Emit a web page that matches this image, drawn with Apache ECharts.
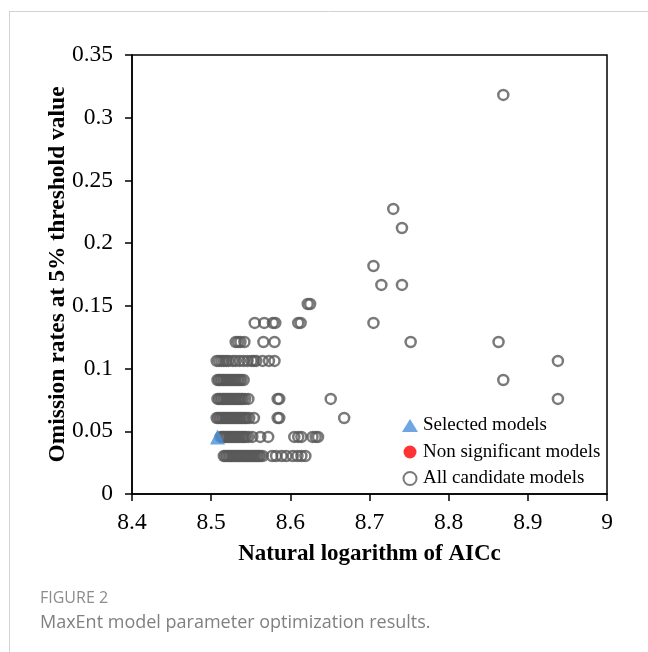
<!DOCTYPE html>
<html><head><meta charset="utf-8">
<script src="https://cdn.jsdelivr.net/npm/echarts/dist/echarts.min.js"></script>
<style>html,body{margin:0;padding:0;background:#fff}#c{width:648px;height:652px}</style>
</head><body><div id="c"></div>
<script>
// Tick labels
const xTickLabels = ['8.4', '8.5', '8.6', '8.7', '8.8', '8.9', '9'];
const yTickLabels = ['0', '0.05', '0.1', '0.15', '0.2', '0.25', '0.3', '0.35'];

// Omission-rate levels (y) and the AICc (ln) values of candidate models at each level (x)
const omissionLevels = [0.0303, 0.0455, 0.0606, 0.0758, 0.0909, 0.1061, 0.1212, 0.1364, 0.1515, 0.1667, 0.1818, 0.2121, 0.2273, 0.3182];
const aicc0303 = [8.516, 8.518, 8.520, 8.522, 8.524, 8.526, 8.528, 8.530, 8.532, 8.534, 8.536, 8.538, 8.540, 8.542, 8.544, 8.546, 8.548, 8.550, 8.552, 8.554, 8.556, 8.558, 8.560, 8.562, 8.565, 8.577, 8.582, 8.589, 8.595, 8.603, 8.609, 8.614, 8.619];
const aicc0455 = [8.512, 8.514, 8.516, 8.518, 8.520, 8.522, 8.524, 8.526, 8.528, 8.530, 8.532, 8.534, 8.536, 8.538, 8.540, 8.542, 8.544, 8.547, 8.552, 8.562, 8.572, 8.605, 8.610, 8.614, 8.628, 8.632, 8.635];
const aicc0606 = [8.507, 8.509, 8.511, 8.513, 8.515, 8.517, 8.519, 8.521, 8.523, 8.525, 8.527, 8.529, 8.531, 8.533, 8.535, 8.537, 8.539, 8.541, 8.543, 8.545, 8.548, 8.554, 8.584, 8.586, 8.668];
const aicc0758 = [8.508, 8.510, 8.512, 8.514, 8.516, 8.518, 8.520, 8.522, 8.524, 8.526, 8.528, 8.530, 8.532, 8.534, 8.536, 8.538, 8.540, 8.543, 8.547, 8.584, 8.586, 8.651, 8.938];
const aicc0909 = [8.508, 8.510, 8.512, 8.514, 8.516, 8.518, 8.520, 8.522, 8.524, 8.526, 8.528, 8.530, 8.532, 8.534, 8.536, 8.538, 8.541, 8.869];
const aicc1061 = [8.507, 8.510, 8.513, 8.516, 8.519, 8.522, 8.527, 8.531, 8.536, 8.541, 8.546, 8.551, 8.554, 8.557, 8.565, 8.573, 8.580, 8.938];
const aicc1212 = [8.531, 8.534, 8.537, 8.542, 8.566, 8.580, 8.752, 8.863];
const aicc1364 = [8.555, 8.567, 8.578, 8.581, 8.610, 8.613, 8.705];
const aicc1515 = [8.622, 8.625];
const aicc1667 = [8.715, 8.741];
const aicc1818 = [8.705];
const aicc2121 = [8.741];
const aicc2273 = [8.730];
const aicc3182 = [8.869];
const aiccByLevel = [aicc0303, aicc0455, aicc0606, aicc0758, aicc0909, aicc1061, aicc1212, aicc1364, aicc1515, aicc1667, aicc1818, aicc2121, aicc2273, aicc3182];

// Selected model
const selectedAICc = [8.508];
const selectedOmission = [0.0455];

// Non significant models (none visible in the plot)
const nonSigAICc = [];
const nonSigOmission = [];

const candidates = [];
omissionLevels.forEach((lvl, i) => aiccByLevel[i].forEach(x => candidates.push([x, lvl])));
const selected = selectedAICc.map((x, i) => [x, selectedOmission[i]]);
const nonSig = nonSigAICc.map((x, i) => [x, nonSigOmission[i]]);

const serif = '"Liberation Serif", "Times New Roman", serif';
const axisLineStyle = { color: '#000', width: 1.5 };

const chart = echarts.init(document.getElementById('c'), null, { renderer: 'canvas' });
chart.setOption({
  animation: false,
  backgroundColor: '#fff',
  grid: { left: 132, top: 55, right: 41, bottom: 158, show: true, borderColor: '#000', borderWidth: 1.5, backgroundColor: 'transparent' },
  xAxis: {
    type: 'value', min: 8.4, max: 9, interval: 0.1,
    axisLine: { show: true, onZero: false, lineStyle: axisLineStyle },
    axisTick: { show: true, inside: false, length: 7, lineStyle: axisLineStyle },
    splitLine: { show: false },
    axisLabel: { fontFamily: serif, fontSize: 23.5, color: '#000', margin: 17,
      formatter: v => xTickLabels[Math.round((v - 8.4) / 0.1)] },
    name: 'Natural logarithm of AICc', nameLocation: 'middle', nameGap: 49,
    nameTextStyle: { fontFamily: serif, fontWeight: 'bold', fontSize: 23, color: '#000' }
  },
  yAxis: {
    type: 'value', min: 0, max: 0.35, interval: 0.05,
    axisLine: { show: true, onZero: false, lineStyle: axisLineStyle },
    axisTick: { show: true, inside: false, length: 7, lineStyle: axisLineStyle },
    splitLine: { show: false },
    axisLabel: { fontFamily: serif, fontSize: 23.5, color: '#000', margin: 19,
      formatter: v => yTickLabels[Math.round(v / 0.05)] },
    name: 'Omission rates at 5% threshold value', nameLocation: 'middle', nameGap: 62, nameMoveOverlap: false,
    nameTextStyle: { fontFamily: serif, fontWeight: 'bold', fontSize: 23.5, color: '#000' }
  },
  legend: {
    data: ['Selected models', 'Non significant models', 'All candidate models'],
    orient: 'vertical', left: 397, top: 411, itemWidth: 16, itemHeight: 13, itemGap: 7.5,
    textStyle: { fontFamily: serif, fontSize: 19, color: '#000', lineHeight: 18 }
  },
  series: [
    { name: 'All candidate models', type: 'scatter', symbol: 'circle', symbolSize: 10, z: 2,
      itemStyle: { color: 'rgba(0,0,0,0)', borderColor: '#595959', borderWidth: 2.5 },
      emphasis: { disabled: true }, data: candidates },
    { name: 'Non significant models', type: 'scatter', symbol: 'circle', symbolSize: 14, z: 3,
      itemStyle: { color: '#ff0000' }, data: nonSig },
    { name: 'Selected models', type: 'scatter', symbol: 'triangle', symbolSize: 15, z: 4,
      itemStyle: { color: '#4a90d9' }, emphasis: { disabled: true }, data: selected }
  ],
  graphic: [
    { type: 'line', silent: true, shape: { x1: 9, y1: 11.5, x2: 648, y2: 11.5 }, style: { stroke: '#d2d2d2', lineWidth: 1 } },
    { type: 'line', silent: true, shape: { x1: 9.5, y1: 11, x2: 9.5, y2: 652 }, style: { stroke: '#d2d2d2', lineWidth: 1 } },
    { type: 'text', left: 40, top: 590, style: { text: 'FIGURE 2', font: '16px "Open Sans", sans-serif', fill: '#8c8c8c' } },
    { type: 'text', left: 40, top: 614, style: { text: 'MaxEnt model parameter optimization results.', font: '18px "Open Sans", sans-serif', fill: '#808080' } }
  ]
});
</script>
</body></html>
